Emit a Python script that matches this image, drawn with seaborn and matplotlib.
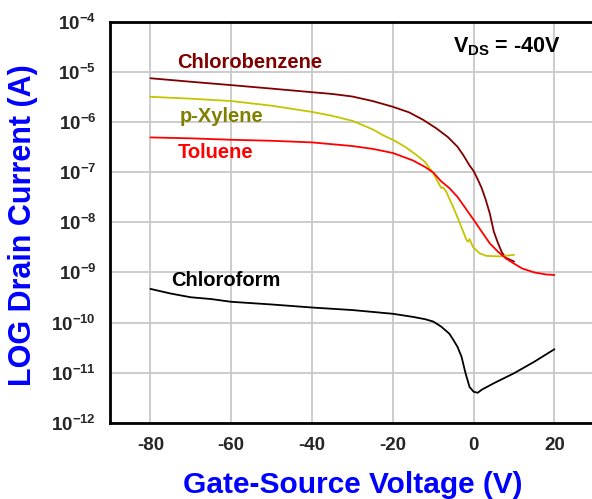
import matplotlib
matplotlib.use("Agg")
import matplotlib.pyplot as plt
import seaborn as sns
import pandas as pd
from matplotlib.ticker import LogLocator, NullFormatter

# values (gate voltage in V, drain current in A)
chlorobenzene_v = [-80, -70, -60, -50, -40, -35, -30, -25, -20, -16, -12.5, -9.2, -6.4, -4, -2.6, -1, 0,
                   1, 2, 3, 4, 5, 6, 7, 8, 10]
chlorobenzene_i = [7.4e-6, 6.3e-6, 5.4e-6, 4.6e-6, 3.9e-6, 3.6e-6, 3.2e-6, 2.6e-6, 2.0e-6, 1.55e-6, 1.1e-6,
                   7.4e-7, 5.0e-7, 3.2e-7, 2.2e-7, 1.35e-7, 1.05e-7, 7.2e-8, 4.8e-8, 2.8e-8, 1.5e-8,
                   6.5e-9, 3.9e-9, 2.5e-9, 1.95e-9, 1.65e-9]

xylene_v = [-80, -70, -60, -50, -40, -35, -30, -25, -22.4, -20, -17, -14.2, -12, -10, -8.4, -8.0, -7.6,
            -6.8, -5.1, -3.9, -3.05, -1.8, -1.4, -1.0, -0.15, 1.5, 3.1, 6.4, 10.0]
xylene_i = [3.16e-6, 2.9e-6, 2.6e-6, 2.1e-6, 1.58e-6, 1.32e-6, 1.05e-6, 7.1e-7, 5.4e-7, 4.4e-7, 3.2e-7,
            2.2e-7, 1.58e-7, 9.5e-8, 5.5e-8, 4.8e-8, 5.0e-8, 4.1e-8, 2.04e-8, 1.2e-8, 8.1e-9, 4.5e-9,
            4.1e-9, 4.6e-9, 3.2e-9, 2.4e-9, 2.14e-9, 2.09e-9, 2.24e-9]

toluene_v = [-80, -70, -60, -50, -40, -30, -25, -20, -15, -12, -10, -8, -6, -4, -2, 0, 2, 4, 6, 8, 10, 12,
             15, 18, 20]
toluene_i = [4.9e-7, 4.7e-7, 4.4e-7, 4.2e-7, 3.9e-7, 3.3e-7, 2.9e-7, 2.4e-7, 1.7e-7, 1.26e-7, 9.8e-8,
             6.5e-8, 4.8e-8, 3.2e-8, 1.9e-8, 1.12e-8, 6.5e-9, 3.8e-9, 2.6e-9, 1.9e-9, 1.5e-9, 1.2e-9,
             1.0e-9, 9.1e-10, 8.9e-10]

chloroform_v = [-80, -75, -70, -65, -60, -50, -40, -30, -20, -15, -12, -10, -8, -6, -5, -4, -3, -2, -1, 0,
                1, 2, 5, 10, 15, 20]
chloroform_i = [4.7e-10, 3.8e-10, 3.2e-10, 2.95e-10, 2.6e-10, 2.3e-10, 2.0e-10, 1.78e-10, 1.5e-10,
                1.3e-10, 1.17e-10, 1.05e-10, 8.3e-11, 6.0e-11, 4.5e-11, 3.3e-11, 2.1e-11, 9.8e-12,
                5.2e-12, 4.2e-12, 4.0e-12, 4.6e-12, 6.2e-12, 9.8e-12, 1.66e-11, 2.95e-11]

x_ticks = [-80, -60, -40, -20, 0, 20]
y_ticks = [1e-12, 1e-11, 1e-10, 1e-9, 1e-8, 1e-7, 1e-6, 1e-5, 1e-4]
y_tick_labels = [r"$10^{-12}$", r"$10^{-11}$", r"$10^{-10}$", r"$10^{-9}$", r"$10^{-8}$",
                 r"$10^{-7}$", r"$10^{-6}$", r"$10^{-5}$", r"$10^{-4}$"]

frames = []
for name, v, i in [("Chlorobenzene", chlorobenzene_v, chlorobenzene_i),
                   ("p-Xylene", xylene_v, xylene_i),
                   ("Toluene", toluene_v, toluene_i),
                   ("Chloroform", chloroform_v, chloroform_i)]:
    frames.append(pd.DataFrame({"V": v, "I": i, "solvent": name}))
df = pd.concat(frames, ignore_index=True)

line_colors = {"Chlorobenzene": "#800000", "p-Xylene": "#c4c400", "Toluene": "#ff0000", "Chloroform": "#000000"}

sns.set_style("white")
plt.rcParams["font.family"] = ["Liberation Sans", "DejaVu Sans"]
plt.rcParams["mathtext.fontset"] = "custom"
plt.rcParams["mathtext.rm"] = "Liberation Sans:bold"
plt.rcParams["mathtext.it"] = "Liberation Sans:bold"
plt.rcParams["mathtext.bf"] = "Liberation Sans:bold"

fig = plt.figure(figsize=(5.92, 4.99), dpi=100)
ax = fig.add_axes([110 / 592, 1 - 423 / 499, 482 / 592, 401.5 / 499])

sns.lineplot(data=df, x="V", y="I", hue="solvent", palette=line_colors, estimator=None,
             sort=False, legend=False, linewidth=1.3, ax=ax)

ax.set_yscale("log")
ax.set_ylim(1e-12, 1e-4)
ax.set_xlim(-90, 29.3)
ax.set_xticks(x_ticks)
ax.set_xticklabels([str(t) for t in x_ticks], fontsize=13.5, fontweight="bold")
ax.set_yticks(y_ticks)
ax.set_yticklabels(y_tick_labels, fontsize=13.5)
ax.yaxis.set_minor_locator(LogLocator(base=10, subs=range(2, 10), numticks=20))
ax.yaxis.set_minor_formatter(NullFormatter())

ax.tick_params(axis="y", which="major", direction="in", length=7, width=1.2, pad=10)
ax.tick_params(axis="y", which="minor", direction="in", length=3.5, width=1)
ax.tick_params(axis="x", which="both", length=0, pad=10)

ax.grid(True, which="major", color="#c8c8c8", linewidth=1.3)
ax.set_axisbelow(True)
for side in ["left", "bottom", "top"]:
    ax.spines[side].set_linewidth(2)
    ax.spines[side].set_color("black")
ax.spines["right"].set_visible(False)

ax.set_xlabel("Gate-Source Voltage (V)", fontsize=21.5, fontweight="bold", color="#0000ff")
ax.set_ylabel("LOG Drain Current (A)", fontsize=22, fontweight="bold", color="#0000ff")
ax.xaxis.label.set_va("center")
ax.yaxis.label.set_va("center")
ax.xaxis.set_label_coords(0.503, -0.155)
ax.yaxis.set_label_coords(-0.181, 0.493)

ax.text(-73.3, 1.55e-5, "Chlorobenzene", color="#800000", fontsize=14.5, fontweight="bold", va="center")
ax.text(-72.8, 1.26e-6, "p-Xylene", color="#808000", fontsize=14.5, fontweight="bold", va="center")
ax.text(-73.3, 2.5e-7, "Toluene", color="#ff0000", fontsize=14.5, fontweight="bold", va="center")
ax.text(-74.8, 6.8e-10, "Chloroform", color="#000000", fontsize=14.5, fontweight="bold", va="center")
ax.text(-5.2, 3.1e-5, r"$V_{DS}$ = -40V", color="#000000", fontsize=15.5, fontweight="bold", va="center")

fig.savefig("out.png", dpi=100)
